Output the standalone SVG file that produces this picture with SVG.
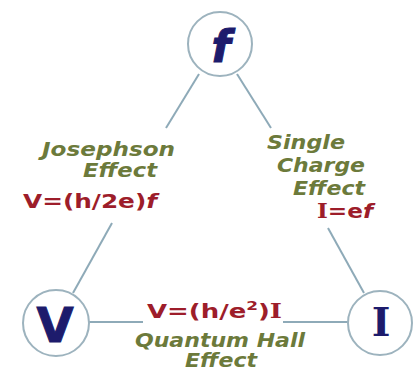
<svg xmlns="http://www.w3.org/2000/svg" width="416" height="371" viewBox="0 0 416 371">
<style>
.node{fill:#fff;stroke:#9db3be;stroke-width:2}
.edge{stroke:#8eaab8;stroke-width:2;fill:none}
.lbl{font-family:"DejaVu Sans",Verdana,sans-serif;font-weight:bold;font-style:italic;font-size:20px;fill:#6c7a3b}
.eq{font-family:"DejaVu Sans",Verdana,sans-serif;font-weight:bold;font-size:20px;fill:#9d1d2a}
.sym{fill:#1d1b6c;font-weight:bold}
.ser{font-family:"DejaVu Serif",serif}
</style>
<rect width="416" height="371" fill="#fff"/>
<g id="connectors">
<line class="edge" x1="199" y1="74" x2="166" y2="128"/>
<line class="edge" x1="112" y1="223" x2="73" y2="293"/>
<line class="edge" x1="237" y1="74" x2="271" y2="128"/>
<line class="edge" x1="328" y1="228" x2="364" y2="293"/>
<line class="edge" x1="89" y1="322" x2="143" y2="322"/>
<line class="edge" x1="283" y1="322" x2="350" y2="322"/>
</g>
<g id="node-f">
<circle class="node" cx="220" cy="44" r="32"/>
<text class="sym" x="221" y="62" text-anchor="middle" font-family="DejaVu Sans, sans-serif" font-style="italic" font-size="44" stroke="#1d1b6c" stroke-width="1">f</text>
</g>
<g id="node-V">
<circle class="node" cx="56" cy="323" r="33"/>
<text class="sym" x="55" y="342" text-anchor="middle" font-family="DejaVu Sans, sans-serif" font-size="48" stroke="#1d1b6c" stroke-width="1">V</text>
</g>
<g id="node-I">
<circle class="node" cx="380" cy="323" r="32"/>
<text class="sym ser" x="381" y="336" text-anchor="middle" font-size="40">I</text>
</g>
<g id="label-josephson">
<text class="lbl" x="42" y="156" textLength="133" lengthAdjust="spacingAndGlyphs">Josephson</text>
<text class="lbl" x="83" y="177" textLength="74" lengthAdjust="spacingAndGlyphs">Effect</text>
<text class="eq" x="23" y="208" textLength="134" lengthAdjust="spacingAndGlyphs">V=(h/2e)<tspan font-style="italic">f</tspan></text>
</g>
<g id="label-single">
<text class="lbl" x="267" y="149" textLength="78" lengthAdjust="spacingAndGlyphs">Single</text>
<text class="lbl" x="277" y="172" textLength="88" lengthAdjust="spacingAndGlyphs">Charge</text>
<text class="lbl" x="293" y="195" textLength="72" lengthAdjust="spacingAndGlyphs">Effect</text>
<text class="eq" x="317" y="218" textLength="56" lengthAdjust="spacingAndGlyphs"><tspan class="ser">I</tspan>=e<tspan font-style="italic">f</tspan></text>
</g>
<g id="label-hall">
<text class="eq" x="147" y="318" textLength="135" lengthAdjust="spacingAndGlyphs">V=(h/e<tspan font-size="13" dy="-8">2</tspan><tspan dy="8">)</tspan><tspan class="ser">I</tspan></text>
<text class="lbl" x="135" y="347" textLength="170" lengthAdjust="spacingAndGlyphs">Quantum Hall</text>
<text class="lbl" x="185" y="367" textLength="72" lengthAdjust="spacingAndGlyphs">Effect</text>
</g>
</svg>
